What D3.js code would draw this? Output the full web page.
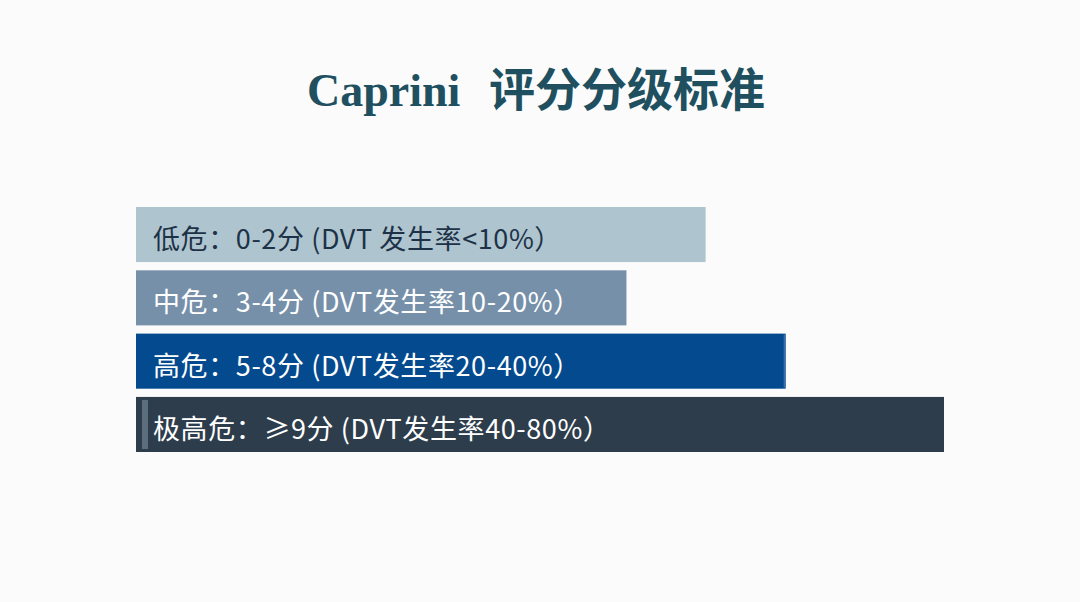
<!DOCTYPE html>
<html>
<head>
<meta charset="utf-8">
<script src="https://cdn.jsdelivr.net/npm/d3@7"></script>
<style>
  html, body { margin: 0; padding: 0; background: #fbfbfb; }
  #chart { width: 1080px; height: 602px; }
</style>
</head>
<body>
<div id="chart"></div>
<script>
// risk levels, relative bar length and label text
const levels = ["低危", "中危", "高危", "极高危"];
const lengths = [70.5, 60.7, 80.4, 100];
const labels = [
  "低危：0-2分 (DVT 发生率<10%）",
  "中危：3-4分 (DVT发生率10-20%）",
  "高危：5-8分 (DVT发生率20-40%）",
  "极高危：≥9分 (DVT发生率40-80%）"
];
const colors = ["#aec5d0", "#7690aa", "#044a8e", "#2d3d4c"];
const textColors = ["#1e3247", "#ffffff", "#ffffff", "#ffffff"];

const W = 1080, H = 602;
const svg = d3.select("#chart").append("svg")
  .attr("width", W).attr("height", H);

svg.append("rect").attr("width", W).attr("height", H).attr("fill", "#fbfbfb");

// title
svg.append("text")
  .attr("x", 307).attr("y", 106)
  .attr("fill", "#20505f")
  .attr("font-weight", "bold")
  .attr("font-family", "'Liberation Serif', serif")
  .attr("font-size", 46)
  .text("Caprini");
svg.append("text")
  .attr("x", 489).attr("y", 106)
  .attr("fill", "#20505f")
  .attr("font-weight", "bold")
  .attr("font-family", "'Noto Sans CJK SC', sans-serif")
  .attr("font-size", 46)
  .text("评分分级标准");

const x = d3.scaleLinear().domain([0, 100]).range([136, 944]);
const y = d3.scaleBand().domain(levels).range([207, 452]).paddingInner(0.13);

const data = levels.map((d, i) => ({ level: d, len: lengths[i], label: labels[i], i }));

const g = svg.append("g");
g.selectAll("rect.bar")
  .data(data)
  .join("rect").classed("bar", true)
  .attr("x", x(0))
  .attr("y", d => y(d.level))
  .attr("width", d => x(d.len) - x(0))
  .attr("height", y.bandwidth())
  .attr("fill", d => colors[d.i]);

// small highlight details seen on the dark bars
g.append("rect")
  .attr("x", x(lengths[2]) - 2).attr("y", y(levels[2]) + 1)
  .attr("width", 2).attr("height", y.bandwidth() - 2)
  .attr("fill", "#3a6fa8");
g.append("rect")
  .attr("x", x(0) + 6).attr("y", y(levels[3]) + 3)
  .attr("width", 6).attr("height", y.bandwidth() - 6)
  .attr("fill", "#5b6e7d");

g.selectAll("text.lbl")
  .data(data)
  .join("text").classed("lbl", true)
  .attr("x", 153)
  .attr("y", d => y(d.level) + 42)
  .attr("font-family", "'Noto Sans CJK SC', sans-serif")
  .attr("font-size", 27)
  .attr("letter-spacing", 0.6)
  .attr("fill", d => textColors[d.i])
  .text(d => d.label);
</script>
</body>
</html>
